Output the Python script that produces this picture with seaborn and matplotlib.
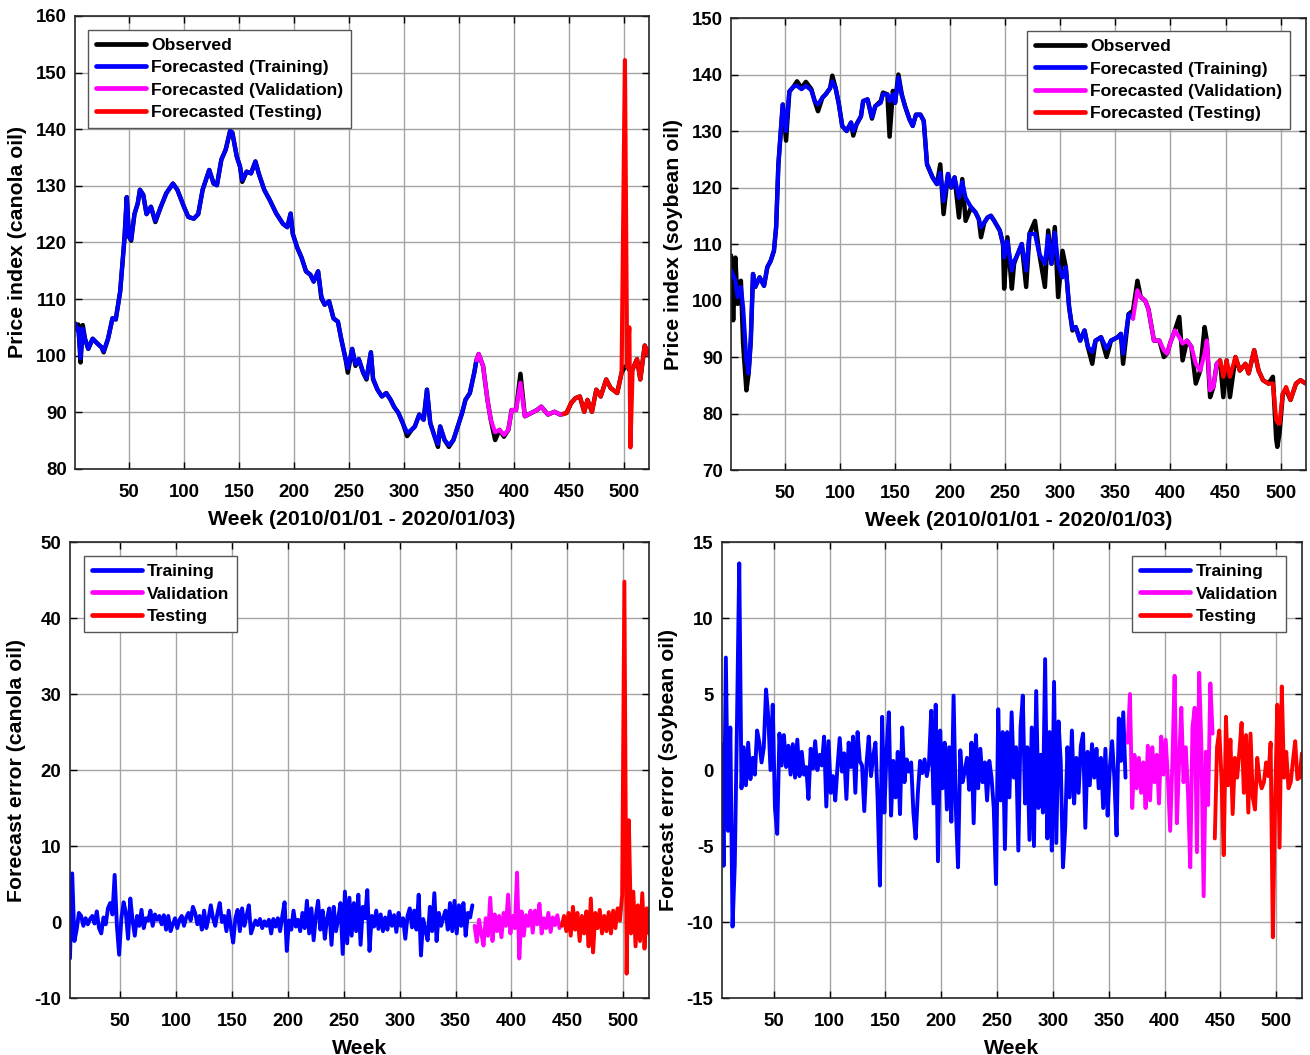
import numpy as np
import pandas as pd
import matplotlib
matplotlib.use("Agg")
import matplotlib.pyplot as plt
import seaborn as sns

# ---- canola price index (week, observed, forecasted) ----
canola_week = [
    1, 3, 4, 6, 8, 10, 13, 17, 21, 25,
    27, 31, 35, 38, 42, 46, 48, 50, 52, 55,
    58, 60, 63, 66, 70, 74, 79, 84, 90, 94,
    100, 104, 109, 113, 117, 123, 127, 130, 134, 138,
    142, 144, 148, 151, 153, 157, 161, 165, 168, 173,
    178, 184, 190, 194, 197, 199, 203, 207, 211, 215,
    218, 222, 225, 228, 232, 236, 240, 243, 247, 249,
    253, 256, 259, 263, 266, 270, 272, 276, 280, 284,
    288, 291, 295, 299, 303, 307, 310, 314, 318, 321,
    324, 328, 331, 333, 337, 341, 345, 349, 353, 356,
    360, 364, 366, 368, 372, 376, 379, 383, 387, 391,
    395, 398, 402, 406, 410, 416, 421, 425, 431, 437,
    442, 445, 448, 452, 456, 460, 464, 467, 471, 475,
    479, 484, 488, 494, 498, 501, 503, 505, 506, 508,
    512, 515, 519, 523]
canola_obs = [
    105.7, 105.2, 105.5, 98.8, 105.4, 103.0, 101.2, 103.0, 102.2, 101.5,
    100.6, 103.0, 106.6, 106.4, 111.3, 120.9, 128.0, 121.0, 120.3, 125.0,
    126.9, 129.3, 128.4, 125.0, 126.3, 123.6, 126.3, 128.7, 130.4, 129.3,
    126.3, 124.5, 124.2, 125.0, 129.3, 132.8, 130.4, 130.1, 134.6, 136.4,
    139.7, 139.4, 135.2, 133.4, 130.7, 132.5, 132.2, 134.3, 132.2, 129.3,
    127.5, 125.1, 123.3, 122.7, 125.1, 121.5, 119.1, 117.3, 114.9, 114.3,
    113.1, 114.9, 110.1, 109.0, 109.6, 106.6, 106.0, 103.0, 99.4, 97.0,
    101.2, 98.2, 99.4, 97.0, 95.8, 100.6, 95.8, 94.0, 92.8, 93.4,
    92.2, 91.0, 89.9, 88.1, 85.8, 86.9, 87.5, 89.6, 88.7, 94.0,
    88.1, 85.7, 83.9, 87.5, 85.1, 83.9, 85.1, 87.5, 89.9, 92.2,
    93.4, 97.0, 99.2, 100.3, 98.2, 92.2, 88.7, 85.1, 86.9, 85.7,
    86.9, 90.4, 90.4, 96.8, 89.3, 89.9, 90.4, 91.0, 89.6, 90.1,
    89.6, 89.7, 89.9, 91.6, 92.5, 92.8, 90.1, 92.2, 90.1, 94.0,
    92.8, 95.8, 94.3, 93.4, 97.0, 98.0, 98.2, 97.5, 97.4, 97.6,
    99.4, 95.8, 101.8, 100.0]
canola_fc = [
    105.7, 104.5, 104.8, 99.6, 104.8, 103.0, 101.2, 103.0, 102.2, 101.5,
    100.8, 103.0, 106.6, 106.4, 111.3, 120.9, 128.0, 121.0, 120.5, 125.0,
    126.9, 129.3, 128.4, 125.0, 126.3, 123.8, 126.3, 128.7, 130.4, 129.3,
    126.3, 124.5, 124.2, 125.0, 129.3, 132.8, 130.4, 130.1, 134.6, 136.4,
    139.7, 139.4, 135.2, 133.4, 131.0, 132.5, 132.2, 134.3, 132.2, 129.3,
    127.5, 125.1, 123.3, 122.7, 125.1, 121.5, 119.1, 117.3, 114.9, 114.3,
    113.1, 114.9, 110.5, 109.0, 109.6, 106.6, 106.0, 103.0, 99.4, 97.8,
    101.2, 98.5, 99.4, 97.0, 96.0, 100.6, 96.0, 94.0, 92.8, 93.4,
    92.2, 91.0, 89.9, 88.1, 86.4, 86.9, 87.5, 89.6, 88.7, 94.0,
    88.1, 85.7, 84.4, 87.5, 85.1, 84.2, 85.1, 87.5, 89.9, 92.2,
    93.4, 97.0, 99.2, 100.3, 98.2, 92.2, 88.7, 86.5, 86.9, 86.0,
    86.9, 90.4, 90.4, 95.2, 89.3, 89.9, 90.4, 91.0, 89.6, 90.1,
    89.6, 89.7, 89.9, 91.6, 92.5, 92.8, 90.1, 92.2, 90.1, 94.0,
    92.8, 95.8, 94.3, 93.4, 97.0, 152.2, 98.0, 105.0, 83.8, 97.6,
    99.4, 95.8, 101.8, 100.0]

# ---- soybean price index ----
soy_week = [
    1, 3, 5, 7, 10, 12, 15, 17, 19, 21,
    23, 27, 31, 34, 37, 40, 42, 44, 46, 48,
    51, 54, 58, 61, 65, 69, 74, 77, 80, 84,
    87, 91, 93, 96, 99, 102, 106, 110, 112, 115,
    119, 121, 125, 129, 132, 137, 139, 143, 145, 148,
    150, 153, 156, 159, 163, 166, 169, 173, 176, 179,
    184, 188, 191, 194, 198, 201, 204, 208, 211, 214,
    219, 223, 226, 228, 231, 234, 237, 240, 245, 248,
    249, 252, 256, 258, 260, 265, 269, 272, 277, 281,
    286, 289, 292, 295, 298, 302, 305, 308, 311, 314,
    318, 322, 325, 329, 332, 337, 342, 346, 352, 355,
    357, 362, 366, 370, 373, 377, 380, 385, 390, 394,
    397, 400, 404, 408, 411, 415, 419, 423, 427, 431,
    433, 436, 439, 442, 445, 448, 451, 454, 459, 463,
    468, 471, 476, 480, 484, 489, 493, 496, 497, 499,
    502, 505, 509, 514, 518, 523]
soy_obs = [
    108.0, 96.5, 107.6, 99.4, 103.5, 92.4, 84.1, 87.1, 93.0, 104.7,
    102.4, 104.1, 102.6, 105.9, 107.0, 108.8, 113.0, 124.0, 129.4, 134.7,
    128.3, 137.0, 137.9, 138.8, 137.6, 138.7, 137.4, 135.3, 133.5, 135.9,
    136.5, 137.6, 139.8, 137.6, 134.7, 130.9, 130.0, 131.5, 129.2, 131.2,
    132.6, 135.3, 135.6, 132.2, 134.4, 135.3, 136.8, 136.5, 129.0, 137.1,
    135.0, 140.0, 136.5, 134.4, 132.1, 130.9, 132.9, 132.9, 131.8, 124.1,
    121.8, 120.6, 124.1, 115.3, 122.4, 120.0, 121.8, 114.7, 121.5, 114.1,
    116.5, 115.6, 114.4, 111.2, 113.8, 114.7, 115.0, 114.1, 112.4, 110.0,
    102.1, 111.2, 102.1, 106.5, 107.6, 110.0, 102.4, 111.8, 114.1, 108.2,
    102.4, 112.4, 106.5, 113.0, 100.6, 108.8, 105.9, 98.8, 94.7, 95.3,
    92.9, 94.7, 91.8, 88.8, 92.9, 93.5, 90.0, 92.9, 93.5, 94.1,
    88.8, 97.6, 98.2, 103.5, 100.6, 100.0, 98.5, 92.9, 92.9, 90.0,
    90.6, 92.6, 94.7, 97.1, 89.4, 92.9, 91.8, 85.3, 87.6, 95.3,
    92.9, 82.9, 84.7, 88.8, 89.4, 82.9, 89.4, 82.9, 90.0, 87.6,
    88.8, 87.1, 91.2, 87.6, 85.9, 85.3, 86.5, 75.5, 74.1, 76.5,
    83.5, 84.2, 82.4, 85.3, 85.9, 85.3]
soy_fc = [
    105.3, 104.5, 103.5, 100.6, 102.4, 98.8, 89.4, 87.1, 93.0, 104.7,
    102.4, 104.1, 102.6, 105.9, 107.0, 108.8, 113.0, 124.0, 129.4, 134.7,
    130.0, 137.0, 137.9, 138.0, 137.4, 138.0, 137.2, 135.3, 134.7, 135.9,
    136.5, 137.6, 138.8, 137.6, 134.7, 130.9, 130.0, 131.5, 130.0, 131.2,
    132.6, 135.3, 135.6, 132.4, 134.4, 135.0, 136.5, 136.5, 135.3, 136.5,
    135.0, 139.5, 136.5, 134.4, 132.1, 130.9, 132.9, 132.9, 131.8, 124.1,
    121.8, 120.6, 122.6, 117.6, 122.4, 120.0, 121.8, 118.2, 121.0, 118.2,
    116.5, 115.6, 114.4, 113.0, 113.8, 114.7, 115.0, 114.1, 112.4, 110.0,
    107.6, 110.5, 105.3, 107.0, 107.6, 110.0, 105.3, 111.8, 111.8, 108.2,
    106.5, 111.5, 106.5, 112.0, 106.5, 104.1, 105.9, 98.8, 95.0, 95.3,
    92.9, 94.7, 91.8, 90.9, 92.9, 93.5, 91.5, 92.9, 93.5, 94.1,
    90.6, 97.6, 96.8, 101.8, 100.6, 100.0, 98.5, 92.9, 92.9, 91.2,
    90.6, 92.6, 94.7, 93.5, 92.4, 92.9, 91.8, 88.8, 87.6, 90.6,
    92.9, 84.1, 84.7, 88.8, 89.4, 86.5, 89.4, 86.5, 90.0, 87.6,
    88.8, 87.1, 91.2, 87.6, 85.9, 85.3, 85.3, 78.8, 78.5, 78.2,
    83.5, 84.7, 82.4, 85.3, 85.9, 85.3]

# ---- forecast errors, one value every 2 weeks ----
canola_err_start = [5, 367, 445]
canola_err_train = [
    -4.8, 6.4, -2.5, -1.0, 1.2, 0.8, -0.5, 0.5, -0.3, 0.4,
    0.8, -0.2, 1.4, -0.8, -1.5, 0.6, -0.3, 1.8, 2.5, 1.0,
    6.2, -0.5, -4.3, 0.5, 2.6, 1.2, -2.2, 3.1, 0.2, -1.8,
    0.8, -0.5, 1.6, -0.8, 0.5, 0.2, 1.5, -0.5, 1.0, 0.3,
    0.8, -0.3, 0.9, -1.0, 0.8, -1.2, -0.3, 0.5, -0.8, 0.3,
    0.8, -0.5, 0.6, 1.2, 0.2, 2.0, 1.2, -0.3, 0.8, -1.0,
    1.5, -0.8, 0.5, 2.2, 0.5, -0.5, 1.2, 2.5, 0.0, 0.8,
    -1.2, 1.5, -0.8, -2.7, 0.5, 1.6, -1.2, 1.8, -0.5, 0.8,
    2.2, -1.5, -0.6, 0.2, -0.4, 0.4, -0.8, 0.1, -0.5, 0.3,
    -1.5, 0.4, -0.6, 0.5, -1.2, 0.8, 2.6, -3.8, 0.2, -1.0,
    1.5, -0.6, 0.3, -1.2, 1.2, -0.8, 2.8, -1.5, 1.8, -2.4,
    0.8, 2.8, -1.0, 1.5, -2.2, 0.5, 1.8, -3.0, 2.0, -1.2,
    0.5, 2.5, -4.2, 4.0, -2.8, 3.2, -1.8, 2.5, -1.2, 3.6,
    -3.0, 2.0, 0.5, 4.2, -3.8, 0.8, -0.6, 1.5, -0.9, 1.0,
    -1.2, 0.6, -1.0, 1.4, -0.5, 0.9, -1.3, 1.2, -0.5, 0.5,
    -2.2, 0.8, 1.8, -0.7, 1.5, -1.0, 3.6, -4.4, 0.4, -1.1,
    -2.4, 2.0, -1.2, 3.8, -2.5, 1.2, -0.5, 0.6, 1.5, -1.0,
    2.5, -1.2, 2.8, -1.5, 2.2, -0.5, 2.5, -1.8, 1.2, 0.6,
    2.2]
canola_err_val = [
    -0.5, -2.6, 0.3, -1.5, -3.1, 0.5, -1.8, 3.2, -2.5, 1.0,
    -1.2, 0.8, -2.0, 1.2, -0.5, 3.6, -1.5, 0.8, -0.8, 6.5,
    -4.8, 1.4, -1.8, 0.9, -0.5, 1.5, -1.4, 1.5, -0.3, 2.4,
    -1.5, 0.5, -0.8, 1.2, -1.3, 0.6, -0.4, 0.9, -0.8]
canola_err_test = [
    -0.5, 0.8, -1.2, 1.2, -1.8, 2.0, -1.0, 1.2, -2.5, 0.8,
    -1.5, 1.4, -3.2, 3.1, -4.0, 1.2, -0.8, 1.6, -1.5, 0.8,
    -1.2, 1.3, -1.5, 1.5, -0.8, 1.8, 0.2, 3.5, 44.8, -6.8,
    13.4, -1.5, 4.0, -3.2, 2.2, -2.5, 3.8, -3.5, 1.8, -1.5]

soy_err_start = [3, 367, 445]
soy_err_train = [
    1.7, -6.3, 7.4, -4.0, 2.8, -10.3, -6.2, 3.2, 13.6, -1.2,
    1.5, -1.0, 1.8, -0.6, 0.8, -0.3, 2.6, 1.8, 0.5, 1.5,
    5.3, 3.5, 0.0, 4.3, -2.5, -4.2, 2.4, 0.3, 2.3, 0.2,
    1.6, -0.3, 1.7, -0.5, 2.0, -0.4, 1.2, -0.3, 0.2, -1.9,
    1.4, 0.1, 1.9, 0.0, 1.0, 0.3, 2.2, -2.4, 1.9, -1.5,
    -0.4, -2.0, 0.2, 2.1, -0.1, 1.1, -1.9, 1.8, 0.2, 2.2,
    -1.5, 2.5, 0.6, 0.3, -2.7, 0.4, 2.2, -0.4, 0.9, 1.8,
    -2.0, -7.6, 3.5, -2.8, 1.3, 3.8, -3.0, 0.6, -1.8, 1.2,
    -2.9, 2.8, -0.8, 0.7, -0.1, 0.5, -2.8, -4.5, -1.5, 0.6,
    -0.2, 0.7, -0.4, 0.5, 3.9, -2.2, 4.3, -6.0, 2.6, -1.2,
    1.8, -2.6, 1.5, -3.4, 4.9, -2.5, -6.4, 1.3, -0.8, -0.1,
    0.8, -1.3, 1.8, -3.5, 2.3, -1.2, 1.4, -0.8, 0.5, -2.0,
    0.6, -0.5, -2.5, -7.5, 4.0, -2.0, 2.5, -5.2, 2.5, -1.8,
    3.8, -0.5, 1.5, -5.3, 2.8, 4.9, -2.2, 1.5, -4.6, 2.8,
    -5.0, 5.2, -2.5, 1.0, -2.8, 7.3, -4.5, 2.5, -5.3, 5.8,
    -4.8, 3.2, 0.5, -6.4, -3.8, 1.5, -1.8, 2.6, -2.2, 0.8,
    -1.5, 1.6, 2.4, -3.8, 1.2, -1.0, 1.7, -0.5, 1.4, -1.2,
    0.8, -2.5, 1.4, -3.0, 0.2, 1.9, -0.5, -4.3, 3.4, 0.6,
    3.8, -0.5]
soy_err_val = [
    1.8, 5.0, -2.5, 1.0, -1.2, 0.8, -1.5, 0.5, -2.5, 1.6,
    -2.0, 1.5, -0.8, 1.0, -2.2, 2.2, -0.3, 2.0, -0.6, -4.0,
    0.5, 6.2, -3.5, 0.5, 4.1, -0.8, 1.5, -1.5, -6.4, 2.8,
    4.1, -5.4, 6.4, 1.5, -8.3, 1.2, -2.3, 5.7, 2.4]
soy_err_test = [
    -4.5, 1.5, 2.6, -0.5, -5.6, 3.5, -1.0, 2.0, -2.9, 0.8,
    -0.5, 1.2, 3.1, -1.5, 2.3, -2.8, 2.4, -1.8, -2.6, 0.8,
    -0.6, -1.2, -0.8, 0.5, -0.4, 1.8, -11.0, -2.0, 4.3, -5.1,
    5.5, -0.5, 1.2, -1.2, -0.8, 0.6, 1.9, -0.6, -0.5, 1.1]

TRAIN_END = 366
VAL_END = 445
COLORS = ["blue", "magenta", "red"]
PARTS = ["Training", "Validation", "Testing"]

sns.set_style("whitegrid")
plt.rcParams["font.family"] = ["Liberation Sans", "DejaVu Sans"]
plt.rcParams["font.weight"] = "bold"
plt.rcParams["axes.unicode_minus"] = False
plt.rcParams["text.color"] = "black"
plt.rcParams["axes.labelcolor"] = "black"

fig = plt.figure(figsize=(13.1, 10.55), dpi=100)
ax_tl = fig.add_axes([0.0573, 0.5555, 0.4382, 0.4294])
ax_tr = fig.add_axes([0.5580, 0.5545, 0.4389, 0.4284])
ax_bl = fig.add_axes([0.0534, 0.0540, 0.4420, 0.4322])
ax_br = fig.add_axes([0.5511, 0.0540, 0.4427, 0.4322])


def style_axis(ax, xlim, ylim, yticks, xlabel, ylabel):
    ax.set_xlim(*xlim)
    ax.set_ylim(*ylim)
    ax.set_xticks(range(50, 501, 50))
    ax.set_yticks(yticks)
    ax.grid(True, color="#a4a4a4", lw=1)
    for s in ax.spines.values():
        s.set_visible(True)
        s.set_color("#262626")
        s.set_linewidth(1.2)
    ax.tick_params(direction="in", length=5, width=1, bottom=True, left=True,
                   top=True, right=True, labelsize=13.4, colors="black")
    ax.tick_params(axis="x", pad=10.5)
    ax.tick_params(axis="y", pad=6)
    ax.set_xlabel(xlabel, fontsize=15.3, fontweight="bold", labelpad=6.5)
    ax.set_ylabel(ylabel, fontsize=15.3, fontweight="bold", labelpad=6)


def add_legend(ax, loc, anchor):
    leg = ax.legend(loc=loc, bbox_to_anchor=anchor, prop={"weight": "bold", "size": 12.6},
                    handlelength=2.85, handletextpad=0.3, labelspacing=0.4,
                    borderpad=0.45, borderaxespad=0, frameon=True, fancybox=False,
                    edgecolor="#555555", framealpha=1, labelcolor="black")
    leg.get_frame().set_linewidth(1)
    for line in leg.get_lines():
        line.set_linewidth(3.4)


def price_panel(ax, weeks, obs, fc):
    df = pd.DataFrame({"week": weeks, "obs": obs, "fc": fc})
    sns.lineplot(data=df, x="week", y="obs", color="black", lw=3.2,
                 estimator=None, ax=ax, label="Observed")
    masks = [df.week <= TRAIN_END,
             (df.week >= TRAIN_END) & (df.week <= VAL_END),
             df.week >= VAL_END]
    for mask, color, part in zip(masks, COLORS, PARTS):
        sns.lineplot(data=df[mask], x="week", y="fc", color=color, lw=3.0,
                     estimator=None, ax=ax, label=f"Forecasted ({part})")


def error_panel(ax, starts, series):
    for start, vals, color, part in zip(starts, series, COLORS, PARTS):
        d = pd.DataFrame({"week": np.arange(start, start + 2 * len(vals), 2), "err": vals})
        sns.lineplot(data=d, x="week", y="err", color=color, lw=2.8,
                     estimator=None, ax=ax, label=part)


price_panel(ax_tl, canola_week, canola_obs, canola_fc)
style_axis(ax_tl, (1, 523), (80, 160), range(80, 161, 10),
           "Week (2010/01/01 - 2020/01/03)", "Price index (canola oil)")
add_legend(ax_tl, "upper left", (0.0226, 0.969))

price_panel(ax_tr, soy_week, soy_obs, soy_fc)
style_axis(ax_tr, (1, 523), (70, 150), range(70, 151, 10),
           "Week (2010/01/01 - 2020/01/03)", "Price index (soybean oil)")
add_legend(ax_tr, "upper right", (0.972, 0.971))

error_panel(ax_bl, canola_err_start, [canola_err_train, canola_err_val, canola_err_test])
style_axis(ax_bl, (5, 523), (-10, 50), range(-10, 51, 10),
           "Week", "Forecast error (canola oil)")
add_legend(ax_bl, "upper left", (0.024, 0.969))

error_panel(ax_br, soy_err_start, [soy_err_train, soy_err_val, soy_err_test])
style_axis(ax_br, (3.5, 523), (-15, 15), range(-15, 16, 5),
           "Week", "Forecast error (soybean oil)")
add_legend(ax_br, "upper right", (0.972, 0.969))

fig.savefig("out.png", dpi=100)
